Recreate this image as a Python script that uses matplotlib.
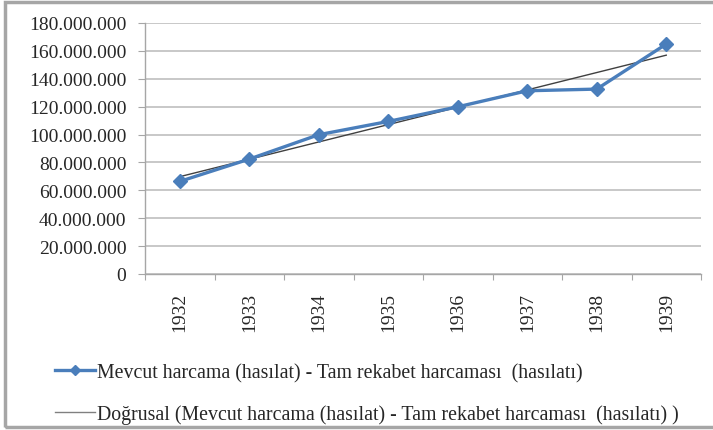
import numpy as np
import matplotlib.pyplot as plt
from matplotlib.patches import Rectangle
from matplotlib.lines import Line2D

# données
yillar = ["1932", "1933", "1934", "1935", "1936", "1937", "1938", "1939"]
harcama = [66.4e6, 82.4e6, 99.9e6, 109.4e6, 119.9e6, 131.4e6, 132.6e6, 164.9e6]

seri_adi = "Mevcut harcama (hasılat) - Tam rekabet harcaması  (hasılatı)"
trend_adi = "Doğrusal (Mevcut harcama (hasılat) - Tam rekabet harcaması  (hasılatı) )"

plt.rcParams['font.family'] = ['Liberation Serif', 'DejaVu Serif']
metin_renk = "#262626"
mavi = "#4a7ebb"

fig = plt.figure(figsize=(7.13, 4.31), dpi=100)
ax = fig.add_axes([145 / 713, 1 - 275 / 431, (701 - 145) / 713, (275 - 24) / 431])

x = np.arange(len(yillar)) + 0.5
# tendance linéaire (comme Excel)
a, b = np.polyfit(np.arange(len(yillar)), harcama, 1)
trend = a * np.arange(len(yillar)) + b

ax.plot(x, trend, color="#404040", lw=1.0, zorder=3)
ax.plot(x, harcama, color=mavi, lw=2.4, marker="D", markersize=7,
        markerfacecolor=mavi, markeredgecolor=mavi, zorder=4)

ax.set_xlim(0, len(yillar))
ax.set_ylim(0, 180e6)
ax.set_yticks(np.arange(0, 180e6 + 1, 20e6))
ax.set_yticklabels(["0" if v == 0 else f"{int(v):,}".replace(",", ".")
                    for v in np.arange(0, 180e6 + 1, 20e6)])
ax.set_xticks(np.arange(0, len(yillar) + 1))
ax.set_xticklabels([])
ax.set_xticks(x, minor=True)
ax.set_xticklabels(yillar, minor=True, rotation=90)

ax.grid(axis="y", color="#c4c4c4", lw=1.3)
ax.set_axisbelow(True)
for s in ["top", "right"]:
    ax.spines[s].set_visible(False)
for s in ["left", "bottom"]:
    ax.spines[s].set_color("#a6a6a6")
    ax.spines[s].set_linewidth(1.0)

ax.tick_params(axis="y", which="major", direction="out", length=5, color="#a6a6a6",
               labelsize=14, labelcolor=metin_renk, pad=8.5)
ax.tick_params(axis="x", which="major", direction="out", length=4, color="#a6a6a6")
ax.tick_params(axis="x", which="minor", length=0, labelsize=14,
               labelcolor=metin_renk, pad=13)

# légende
h1 = Line2D([], [], color=mavi, lw=2.4, marker="D", markersize=5)
h2 = Line2D([], [], color="#808080", lw=1.0)
fig.legend([h1, h2], [seri_adi, trend_adi], loc="upper left",
           bbox_to_anchor=(55 / 713, 1 - 364 / 431), frameon=False,
           borderpad=0, borderaxespad=0,
           fontsize=14.3, handlelength=2.0, handletextpad=0.1, labelspacing=1.1,
           labelcolor=metin_renk)

# cadre
fig.patches.append(Rectangle((5 / 713, 3 / 431), 1.0, (428 - 3) / 431,
                             transform=fig.transFigure, fill=False,
                             edgecolor="#a6a6a6", lw=2.5))

fig.savefig("out.png", dpi=100)
